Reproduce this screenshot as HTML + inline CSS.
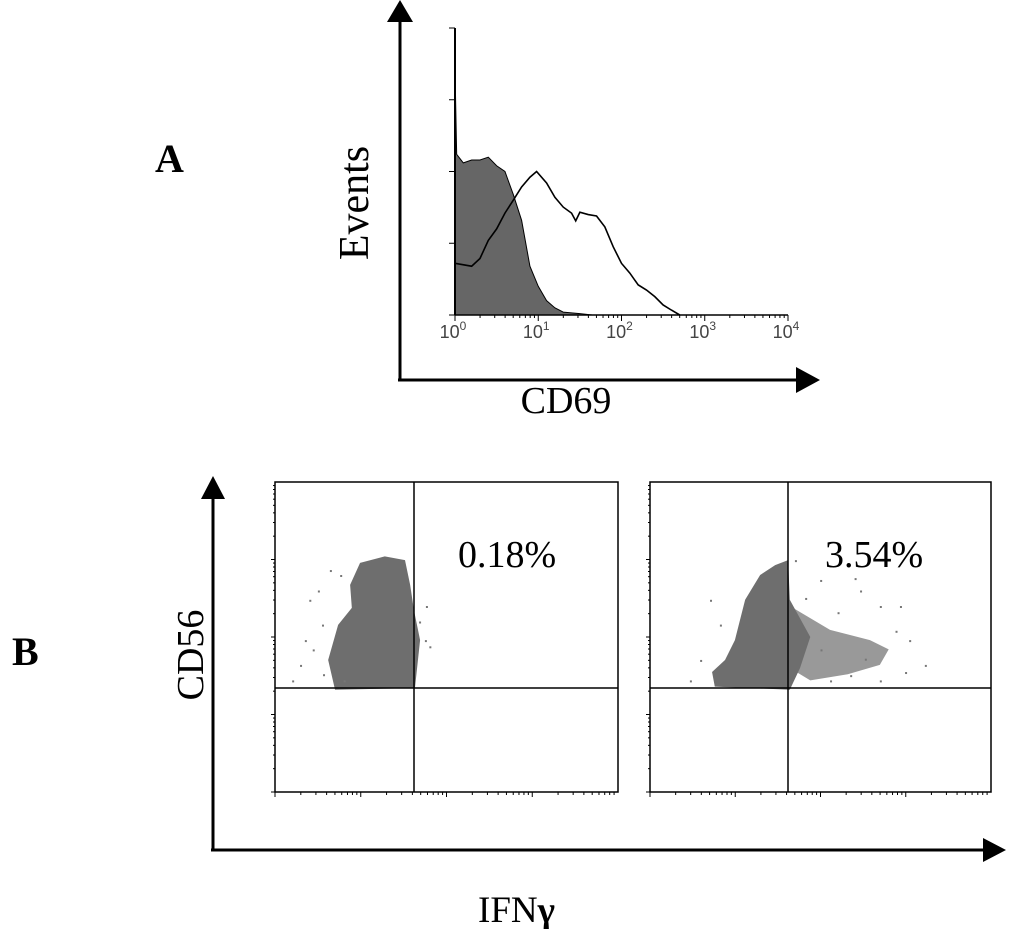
<!DOCTYPE html>
<html><head><meta charset="utf-8"><style>
body{margin:0;background:#fff;}
svg{display:block;font-family:"Liberation Serif",serif;}
</style></head><body>
<svg id="fig" width="1024" height="929" viewBox="0 0 1024 929">
<g>
<line x1="400" y1="20" x2="400" y2="380" stroke="#000" stroke-width="3"/>
<polygon points="387,22 413,22 400,0" fill="#000"/>
<line x1="398" y1="380" x2="798" y2="380" stroke="#000" stroke-width="3"/>
<polygon points="796,367 796,393 820,380" fill="#000"/>
<text x="155" y="172" font-size="40" font-weight="bold">A</text>
<text transform="translate(368,203) rotate(-90)" text-anchor="middle" font-size="42">Events</text>
<text x="566" y="413" text-anchor="middle" font-size="38">CD69</text>
</g>
<g id="hist"></g>
<g>
<line x1="213" y1="495" x2="213" y2="850" stroke="#000" stroke-width="3"/>
<polygon points="201,499 225,499 213,476" fill="#000"/>
<line x1="211" y1="850" x2="985" y2="850" stroke="#000" stroke-width="3"/>
<polygon points="983,838 983,862 1006,850" fill="#000"/>
<text x="12" y="665" font-size="40" font-weight="bold">B</text>
<text transform="translate(203,655) rotate(-90)" text-anchor="middle" font-size="38">CD56</text>
<text x="478" y="922" font-size="37">IFN<tspan font-weight="bold">γ</tspan></text>
</g>
<g id="scat"></g>
</svg>
<script>
// Histogram data (x in log10 units, y in relative counts 0-100)
const grayX = [0,0.005,0.02,0.1,0.2,0.3,0.4,0.5,0.6,0.7,0.8,0.9,1.0,1.1,1.2,1.3,1.5,1.65];
const grayY = [78,78,56,53,54,54,55,52,50,42,33,17,10,5,2.5,1,0.5,0];
const openX = [0,0.2,0.3,0.4,0.5,0.6,0.7,0.8,0.9,0.98,1.1,1.2,1.3,1.4,1.45,1.5,1.6,1.7,1.8,1.9,2.0,2.1,2.2,2.3,2.4,2.5,2.6,2.7];
const openY = [18,17,19.7,26,30,35.5,40,44.6,48,50,46,41,37.6,35.5,32.8,35.8,35,34.5,30.7,23.8,18,14.6,10.5,8.7,6.4,3.5,1.7,0];
const decadeLabels = ["0","1","2","3","4"];
// Scatter data (percent of channel range)
const blob1 = [[17.5,33],[15.5,42.6],[18.4,53.9],[22.4,59.4],[21.9,66.8],[24.8,73.9],[32,76],[37.9,74.8],[39.4,66.8],[40.5,58.7],[42.3,49],[40.8,33.5]];
const dots1 = [[11,46],[7.3,41],[5,36],[10,62],[12.5,65],[43.7,49],[45,47],[42,55],[16,71.6],[8.7,49],[13.7,54],[14,38],[20,36],[44,60],[19,70]];
const blob2 = [[19,34],[18.2,38.7],[22,42.6],[24.9,49],[27.9,62],[32.3,70],[36.7,73.2],[40.5,74.8],[41,62],[44,56],[47,50],[44,40],[41,33]];
const tail2 = [[41,60],[52.8,52.3],[64.5,49],[70,46],[67.4,41],[58,38],[47,36],[41,40]];
const dots2 = [[49.9,68.4],[60,69],[67.4,60],[73.3,60],[76,49],[80.6,41],[74.8,38.7],[67.4,36],[58.7,37.7],[52.8,36],[61.6,65],[45.5,62.6],[42.5,74.8],[17.6,62],[14.7,42.6],[11.7,36],[20.5,54],[55,58],[72,52],[63,43],[50,46]];
const pctLabels = ["0.18%","3.54%"];

const NS="http://www.w3.org/2000/svg";
function mk(tag,attrs,parent){const e=document.createElementNS(NS,tag);for(const k in attrs)e.setAttribute(k,attrs[k]);parent.appendChild(e);return e;}

const H=document.getElementById('hist');
const hx=v=>455+v*83.25, hy=v=>315-v*2.87;
let d="M"+hx(grayX[0])+","+hy(0);
grayX.forEach((x,i)=>{d+=" L"+hx(x)+","+hy(grayY[i]);});
d+=" L"+hx(grayX[grayX.length-1])+","+hy(0)+" Z";
const gp=mk('path',{d:d,fill:'#666',stroke:'#000','stroke-width':1},H);


let d2="M"+hx(openX[0])+","+hy(openY[0]);
openX.forEach((x,i)=>{d2+=" L"+hx(x)+","+hy(openY[i]);});
const op=mk('path',{d:d2,fill:'none',stroke:'#000','stroke-width':1.6},H);


mk('line',{x1:455,y1:28,x2:455,y2:315,stroke:'#000','stroke-width':2},H);
mk('line',{x1:455,y1:315,x2:788,y2:315,stroke:'#000','stroke-width':1.5},H);
[0,25,50,75,100].forEach(v=>mk('line',{x1:449,y1:hy(v),x2:455,y2:hy(v),stroke:'#000','stroke-width':1},H));
decadeLabels.forEach((l,i)=>{
  for(let k=1;k<10&&i<4;k++){const x=hx(i+Math.log10(k));mk('line',{x1:x,y1:315,x2:x,y2:k==1?321:318,stroke:'#000','stroke-width':1},H);}
  const t=mk('text',{x:hx(i)-2,y:338,'text-anchor':'middle','font-size':18,'font-family':'Liberation Sans,sans-serif',fill:'#444'},H);
  t.textContent="10";
  const s=mk('tspan',{dy:-8,'font-size':12},t);s.textContent=l;
  
  
});
mk('line',{x1:788,y1:315,x2:788,y2:321,stroke:'#000','stroke-width':1},H);

const S=document.getElementById('scat');
const panels=[{x0:275,w:343,vx:414,blob:blob1,tail:null,dots:dots1,lx:458},{x0:650,w:341,vx:788,blob:blob2,tail:tail2,dots:dots2,lx:825}];
panels.forEach((p,pi)=>{
  const g=mk('g',{},S);
  
  
  const sx=v=>p.x0+v*p.w/100, sy=v=>792-v*3.1;
  if(p.tail){const t=mk('polygon',{points:p.tail.map(q=>sx(q[0])+","+sy(q[1])).join(" "),fill:'#999'},g);
    
    }
  const b=mk('polygon',{points:p.blob.map(q=>sx(q[0])+","+sy(q[1])).join(" "),fill:'#6e6e6e'},g);
  
  
  p.dots.forEach(q=>{const r=mk('rect',{x:sx(q[0]),y:sy(q[1]),width:2,height:2,fill:'#777'},g);
    
    });
  mk('rect',{x:p.x0,y:482,width:p.w,height:310,fill:'none',stroke:'#000','stroke-width':1.5},g);
  const q1=mk('line',{x1:p.vx,y1:482,x2:p.vx,y2:792,stroke:'#000','stroke-width':1.5},g);
  
  
  const q2=mk('line',{x1:p.x0,y1:688,x2:p.x0+p.w,y2:688,stroke:'#000','stroke-width':1.5},g);
  
  
  for(let i=0;i<4;i++){for(let k=1;k<10;k++){
    const f=(i+Math.log10(k))/4;
    mk('line',{x1:p.x0-(k==1?4:2),y1:792-f*310,x2:p.x0,y2:792-f*310,stroke:'#000','stroke-width':1},g);
    mk('line',{x1:p.x0+f*p.w,y1:792,x2:p.x0+f*p.w,y2:792+(k==1?5:3),stroke:'#000','stroke-width':1},g);
  }}
  const t=mk('text',{x:p.lx,y:567,'font-size':38},g);
  t.textContent=pctLabels[pi];
  
  
});
</script>
</body></html>
